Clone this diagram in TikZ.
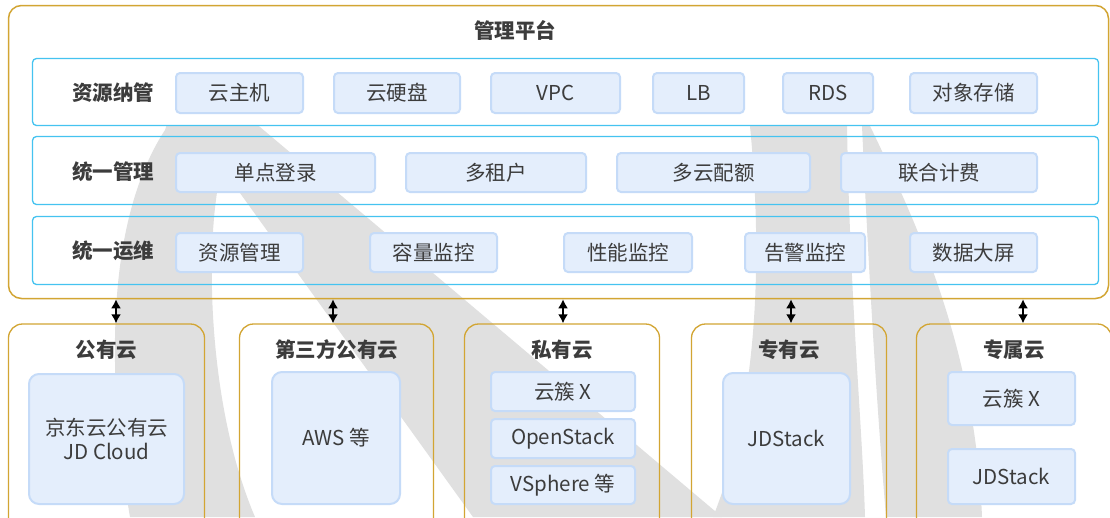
\documentclass[tikz,border=0pt]{standalone}
\usepackage{fontspec}
\setmainfont{Noto Sans CJK SC}
\usetikzlibrary{arrows.meta}

\definecolor{gold}{HTML}{D2A533}
\definecolor{skyline}{HTML}{45C3F0}
\definecolor{itemfill}{HTML}{E4EEFC}
\definecolor{itemline}{HTML}{C5DBF8}
\definecolor{ink}{HTML}{3C3C3C}
\definecolor{wmgray}{HTML}{E0E0E0}

\tikzset{
  item/.style={draw=itemline, line width=2pt, fill=itemfill, rounded corners=4pt,
    text=ink, font=\fontsize{20.5}{24}\selectfont, inner sep=0pt, align=center},
  layer/.style={draw=skyline, line width=1.3pt, rounded corners=4pt, inner sep=0pt},
  rowtitle/.style={text=ink, font=\fontsize{20.5}{24}\selectfont\bfseries},
  platbox/.style={draw=gold, line width=1.5pt, rounded corners=13pt, inner sep=0pt},
  cloudbox/.style={draw=gold, line width=1.3pt, rounded corners=14pt, inner sep=0pt},
  updown/.style={{Latex[length=9pt,width=10pt]}-{Latex[length=9pt,width=10pt]}, line width=2.2pt, black},
}

\begin{document}
\begin{tikzpicture}[x=1pt, y=-1pt]
\clip (0,0) rectangle (1110,517);
\fill [white] (0,0) rectangle (1110,517);

%the watermark
\begin{scope}
\clip (0,126) rectangle (1110,517);
\fill [wmgray] (130,517) .. controls (110,400) and (100,230) .. (165,130) -- (175,100) -- (228,100)
  -- (722,517) -- (473,517) -- (222,168) .. controls (205,230) and (205,400) .. (255,517) -- cycle;
\fill [wmgray] (750,100) -- (750,126) .. controls (762,250) and (760,400) .. (713,517)
  -- (865,517) .. controls (862,420) and (850,300) .. (847,126) -- (847,100) -- cycle;
\fill [wmgray] (860,100) -- (862,126) .. controls (870,300) and (878,420) .. (886,517)
  -- (982,517) .. controls (975,350) and (920,230) .. (870,126) -- (868,100) -- cycle;
\end{scope}

%the platform
\node [platbox, minimum width=1100pt, minimum height=293pt] (plat) at (558.5,152) {};
\node [rowtitle] (platT) at (515,30) {管理平台};

\node [layer, minimum width=1066pt, minimum height=67pt] (rowA) at (565.5,92) {};
\node [layer, minimum width=1066pt, minimum height=68pt] (rowB) at (565.5,170.5) {};
\node [layer, minimum width=1066pt, minimum height=68pt] (rowC) at (565.5,250.5) {};
\node [rowtitle] (rowAT) at (113,93) {资源纳管};
\node [rowtitle] (rowBT) at (113,172) {统一管理};
\node [rowtitle] (rowCT) at (113,251) {统一运维};

%resource row
\node [item, minimum width=127pt, minimum height=40pt] (vm) at (239.5,93) {云主机};
\node [item, minimum width=126pt, minimum height=40pt] (disk) at (397,93) {云硬盘};
\node [item, minimum width=129pt, minimum height=40pt] (vpc) at (555.5,93) {VPC};
\node [item, minimum width=91pt, minimum height=40pt] (lb) at (698.5,93) {LB};
\node [item, minimum width=90pt, minimum height=40pt] (rds) at (828,93) {RDS};
\node [item, minimum width=127pt, minimum height=40pt] (oss) at (973.5,93) {对象存储};

%management row
\node [item, minimum width=199pt, minimum height=39pt] (sso) at (275.5,172.5) {单点登录};
\node [item, minimum width=180pt, minimum height=39pt] (tenant) at (496,172.5) {多租户};
\node [item, minimum width=193pt, minimum height=39pt] (quota) at (713.5,172.5) {多云配额};
\node [item, minimum width=196pt, minimum height=39pt] (bill) at (939,172.5) {联合计费};

%operation row
\node [item, minimum width=127pt, minimum height=39pt] (resmgr) at (239.5,252.5) {资源管理};
\node [item, minimum width=127pt, minimum height=39pt] (capmon) at (433.5,252.5) {容量监控};
\node [item, minimum width=128pt, minimum height=39pt] (perfmon) at (628,252.5) {性能监控};
\node [item, minimum width=120pt, minimum height=39pt] (alarm) at (805,252.5) {告警监控};
\node [item, minimum width=127pt, minimum height=39pt] (screen) at (973.5,252.5) {数据大屏};

%the clouds
\node [cloudbox, minimum width=196pt, minimum height=230pt] (pub) at (106.5,439) {};
\node [cloudbox, minimum width=194pt, minimum height=230pt] (thr) at (336.5,439) {};
\node [cloudbox, minimum width=195pt, minimum height=230pt] (pri) at (562,439) {};
\node [cloudbox, minimum width=195pt, minimum height=230pt] (ded) at (789,439) {};
\node [cloudbox, minimum width=195pt, minimum height=230pt] (exc) at (1014,439) {};
\node [rowtitle] (pubT) at (106.5,350) {公有云};
\node [rowtitle] (thrT) at (336.5,350) {第三方公有云};
\node [rowtitle] (priT) at (562,350) {私有云};
\node [rowtitle] (dedT) at (789,350) {专有云};
\node [rowtitle] (excT) at (1014,350) {专属云};

\node [item, minimum width=155pt, minimum height=130pt, rounded corners=10pt] (jdc) at (106.5,439) {京东云公有云\\JD Cloud};
\node [item, minimum width=128pt, minimum height=132pt, rounded corners=10pt] (aws) at (336,438) {AWS 等};
\node [item, minimum width=144pt, minimum height=39pt] (priX) at (563,391.5) {云簇 X};
\node [item, minimum width=144pt, minimum height=39pt] (ops) at (563,438.5) {OpenStack};
\node [item, minimum width=144pt, minimum height=38pt] (vsp) at (563,485) {VSphere 等};
\node [item, minimum width=127pt, minimum height=131pt, rounded corners=10pt] (dedJ) at (786.5,438.5) {JDStack};
\node [item, minimum width=127pt, minimum height=53pt] (excX) at (1011.5,398.5) {云簇 X};
\node [item, minimum width=127pt, minimum height=55pt] (excJ) at (1011.5,476.5) {JDStack};

%the links
\foreach \b/\x in {pub/116, thr/333, pri/563, ded/791, exc/1023}
  \draw [updown] (\x,0 |- plat.south) -- (\x,0 |- \b.north);
\end{tikzpicture}
\end{document}
